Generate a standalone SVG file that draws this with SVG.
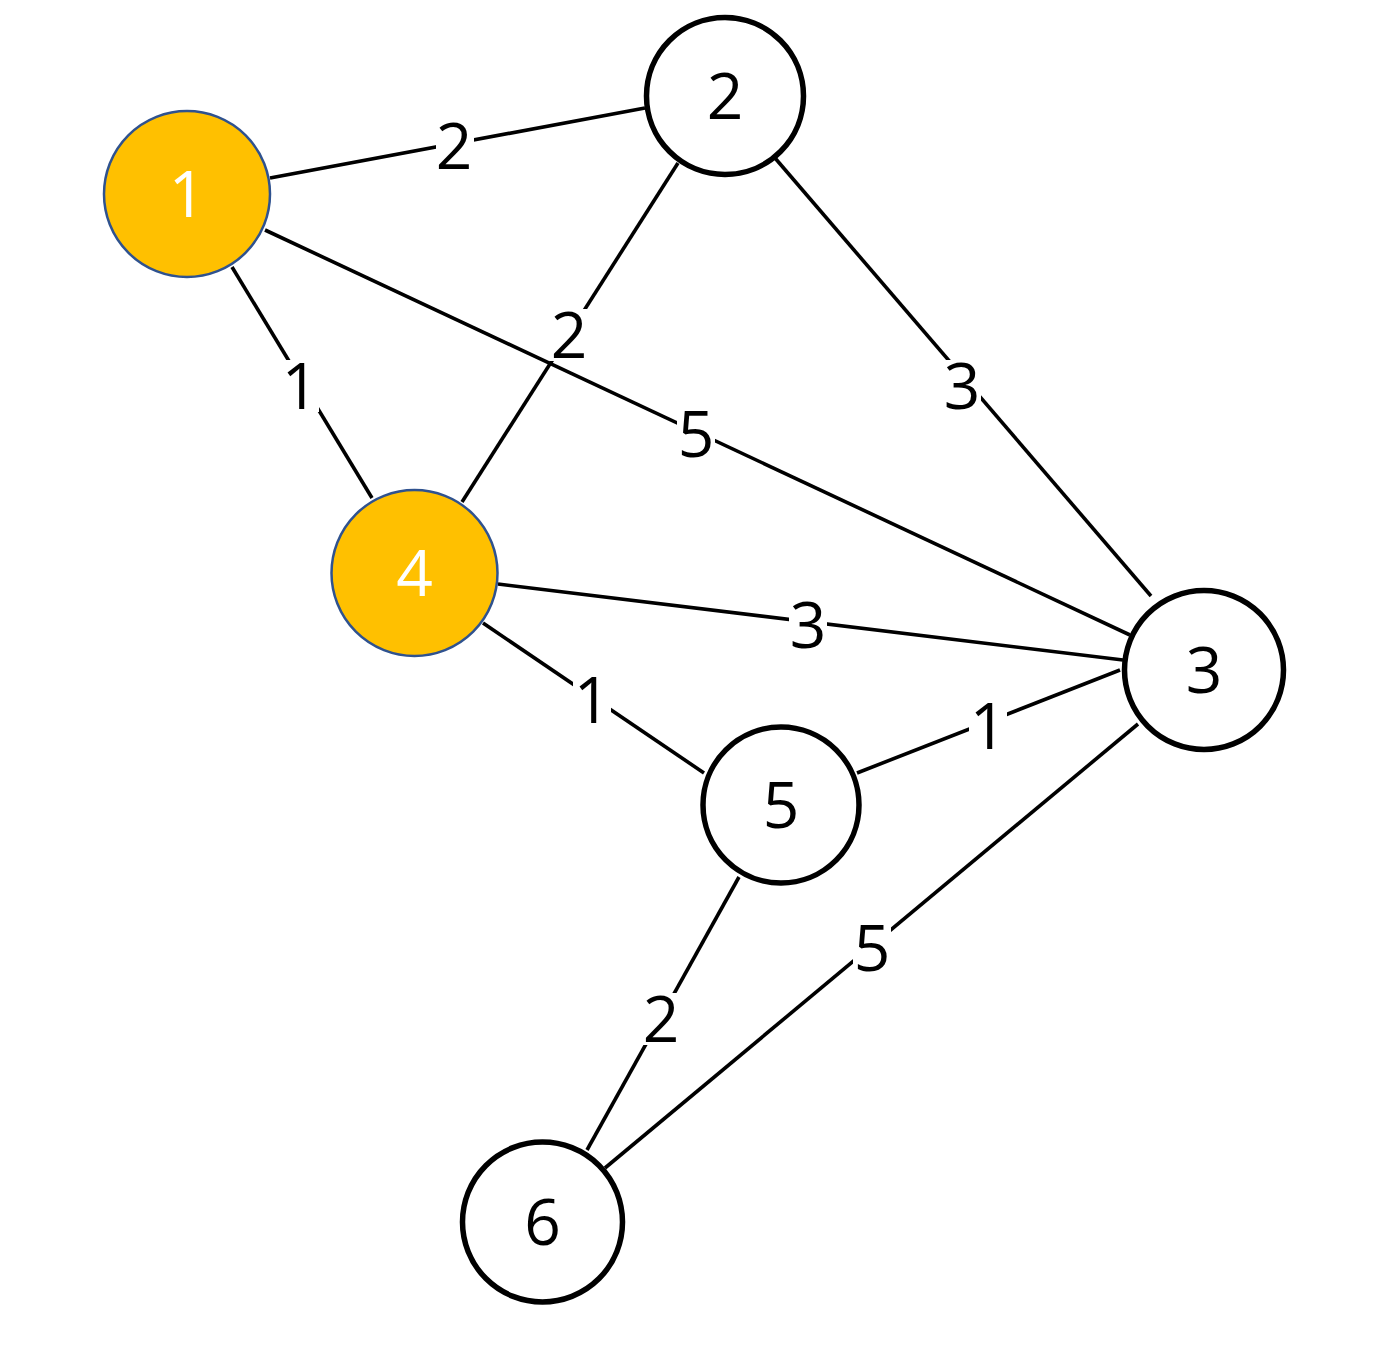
<svg xmlns="http://www.w3.org/2000/svg" width="1391" height="1351" viewBox="0 0 1391 1351">
<style>
.edge{stroke:#000;stroke-width:3.6;fill:none}
.lbg{fill:#fff}
.lbl{font-family:"Open Sans","Noto Sans",sans-serif;font-size:64px;fill:#000;text-anchor:middle}
.hl{fill:#FFC000;stroke:#2F528F;stroke-width:2.5}
.nd{fill:#fff;stroke:#000;stroke-width:5.5}
.ntw{font-family:"Open Sans","Noto Sans",sans-serif;font-size:64px;fill:#fff;text-anchor:middle}
.ntb{font-family:"Open Sans","Noto Sans",sans-serif;font-size:64px;fill:#000;text-anchor:middle}
</style>
<rect width="1391" height="1351" fill="#fff"/>
<g id="connectors">
<line class="edge" x1="270" y1="178" x2="645" y2="108"/>
<line class="edge" x1="265" y1="230" x2="1130" y2="635"/>
<line class="edge" x1="232" y1="267" x2="372" y2="498"/>
<line class="edge" x1="678" y1="163" x2="462" y2="502"/>
<line class="edge" x1="775" y1="158" x2="1151" y2="596"/>
<line class="edge" x1="498" y1="584" x2="1123" y2="660"/>
<line class="edge" x1="483" y1="623" x2="704" y2="773"/>
<line class="edge" x1="857" y1="773" x2="1120" y2="670"/>
<line class="edge" x1="739" y1="877" x2="587" y2="1150"/>
<line class="edge" x1="605" y1="1168" x2="1138" y2="724"/>
<g id="labels">
<rect class="lbg" x="436" y="120" width="38" height="52"/><text class="lbl" x="454" y="169">2</text>
<rect class="lbg" x="281" y="360" width="38" height="52"/><text class="lbl" x="300" y="409">1</text>
<rect class="lbg" x="550" y="309" width="38" height="52"/><text class="lbl" x="569" y="358">2</text>
<rect class="lbg" x="677" y="408" width="38" height="52"/><text class="lbl" x="696" y="457">5</text>
<rect class="lbg" x="943" y="360" width="38" height="52"/><text class="lbl" x="962" y="409">3</text>
<rect class="lbg" x="789" y="599" width="38" height="52"/><text class="lbl" x="808" y="648">3</text>
<rect class="lbg" x="573" y="674" width="38" height="52"/><text class="lbl" x="592" y="723">1</text>
<rect class="lbg" x="969" y="700" width="38" height="52"/><text class="lbl" x="988" y="749">1</text>
<rect class="lbg" x="642" y="993" width="38" height="52"/><text class="lbl" x="661" y="1042">2</text>
<rect class="lbg" x="853" y="922" width="38" height="52"/><text class="lbl" x="872" y="971">5</text>
</g>
</g>
<g id="node1"><circle class="hl" cx="187" cy="194" r="83"/><text class="ntw" x="187" y="217">1</text></g>
<g id="node2"><circle class="nd" cx="725" cy="96" r="78.5"/><text class="ntb" x="725" y="119">2</text></g>
<g id="node3"><circle class="nd" cx="1204" cy="670" r="79.5"/><text class="ntb" x="1204" y="693">3</text></g>
<g id="node4"><circle class="hl" cx="414.5" cy="573" r="83"/><text class="ntw" x="414.5" y="596">4</text></g>
<g id="node5"><circle class="nd" cx="781" cy="805" r="78"/><text class="ntb" x="781" y="828">5</text></g>
<g id="node6"><circle class="nd" cx="542.5" cy="1222" r="80"/><text class="ntb" x="542.5" y="1245">6</text></g>
</svg>
